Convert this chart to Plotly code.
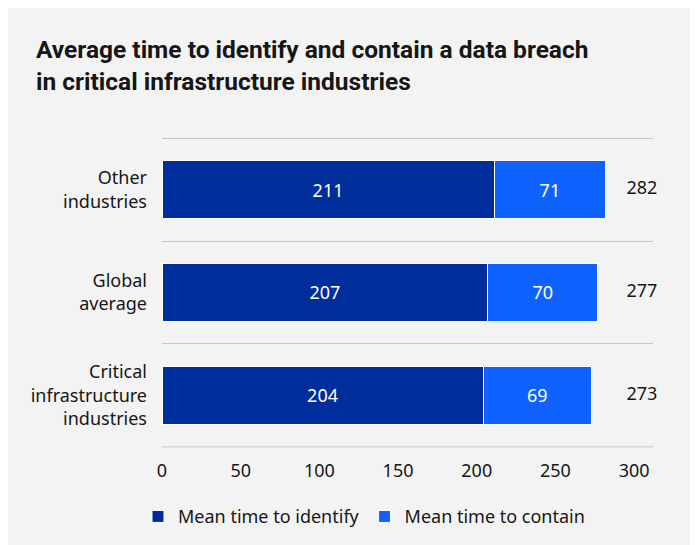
import plotly.graph_objects as go

categories = ["Other<br>industries", "Global<br>average", "Critical<br>infrastructure<br>industries"]
identify = [211, 207, 204]
contain = [71, 70, 69]
totals = [a + b for a, b in zip(identify, contain)]
x_ticks = [0, 50, 100, 150, 200, 250, 300]

dark = "#002d9c"
light = "#0f62fe"
ink = "#161616"
grid = "#c6c6c6"
body_font = "Noto Sans"

fig = go.Figure()
fig.add_trace(go.Bar(
    y=categories, x=identify, orientation="h", name="Mean time to identify",
    marker=dict(color=dark, line=dict(color="white", width=1)),
    text=identify, textposition="inside", insidetextanchor="middle",
    textfont=dict(color="white", size=18, family=body_font),
))
fig.add_trace(go.Bar(
    y=categories, x=contain, orientation="h", name="Mean time to contain",
    marker=dict(color=light, line=dict(color="white", width=1)),
    text=contain, textposition="inside", insidetextanchor="middle",
    textfont=dict(color="white", size=18, family=body_font),
))
# totals shown to the right of each bar
fig.add_trace(go.Scatter(
    y=categories, x=[305] * len(totals), mode="text", text=totals,
    textfont=dict(color=ink, size=18, family=body_font),
    showlegend=False, cliponaxis=False, hoverinfo="skip",
))

fig.update_layout(
    width=690, height=537,
    margin=dict(l=154, r=45, t=128, b=94, autoexpand=False),
    paper_bgcolor="#f3f3f3", plot_bgcolor="rgba(0,0,0,0)",
    font=dict(family=body_font, size=18, color=ink),
    barmode="stack", bargap=0.43,
    title=dict(
        text="<b>Average time to identify and contain a data breach<br>in critical infrastructure industries</b>",
        x=28 / 690, xref="container", xanchor="left",
        y=1 - 50 / 537, yref="container", yanchor="top",
        font=dict(family="Roboto", size=24.5, color=ink),
    ),
    legend=dict(
        orientation="h", x=-24 / 491, xanchor="left",
        y=-0.15, yanchor="top", font=dict(size=18), bgcolor="rgba(0,0,0,0)",
        traceorder="normal",
    ),
)
# bottom boundary line (plotly skips the last boundary gridline)
fig.add_shape(
    type="line", xref="paper", x0=0, x1=1, yref="y",
    y0=len(categories) - 0.5, y1=len(categories) - 0.5,
    line=dict(color=grid, width=1), layer="below",
)
fig.update_xaxes(
    range=[0, 312], tickvals=x_ticks, showgrid=False, zeroline=False,
    showline=False, ticks="", ticklabelstandoff=7,
)
fig.update_yaxes(
    range=[2.54, -0.52], tickson="boundaries", showgrid=True,
    gridcolor=grid, gridwidth=1, zeroline=False, showline=False,
    ticks="", ticklabelstandoff=14,
)

fig.write_html("out.html")
